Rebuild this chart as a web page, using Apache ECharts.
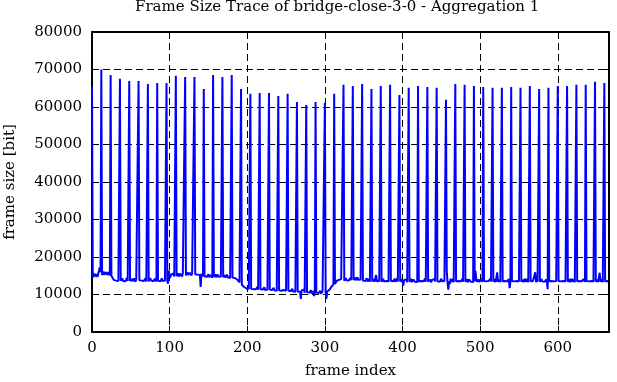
<!DOCTYPE html>
<html><head><meta charset="utf-8">
<script src="https://cdn.jsdelivr.net/npm/echarts@6/dist/echarts.min.js"></script>
<style>html,body{margin:0;padding:0;background:#fff}#c{width:617px;height:382px}</style>
</head><body><div id="c"></div>
<script>
// I-frame sizes, one per GOP of 12 frames (frames 0, 12, 24, ... 660)
const iFrameSizes = [
65400,70000,68500,67500,66900,66900,66100,66400,66400,68300,68000,68000,
64800,68500,68000,68500,64800,63500,63700,63700,62900,63500,61300,60500,
61300,61100,63500,65900,65600,66100,64800,65600,65900,63200,65100,65600,
65300,65100,61900,66100,65900,65600,65300,65100,65100,65300,65100,65600,
64800,65100,65600,65600,65900,65900,66700,66400
];
// Remaining frames of each GOP (11 per GOP, last GOP has 5)
const otherFrameSizes = [
14600,14900,15600,14800,14500,15400,14700,15000,16300,17200,16000,
15200,15600,16100,15300,15000,15900,15400,15200,16000,15500,15100,
15000,14600,14800,13900,13600,14300,13700,13500,14200,13600,13800,
13700,13500,14300,13600,13800,14100,13500,13700,14400,13600,13500,
13600,13900,14200,13500,13700,14300,13800,13400,14100,13700,13600,
13800,13500,14200,13700,13400,14000,13600,13800,14300,13500,13700,
13500,13700,14400,13800,13600,14100,13500,13700,14200,13800,13500,
13700,13600,14100,13500,13800,14300,13600,13400,14000,13700,13900,
13600,12900,16400,14300,14800,15300,14900,15100,15600,14800,15000,
14900,15200,15700,14800,15100,15500,15000,14800,15600,15200,15300,
15100,15400,15900,15200,15300,15800,15500,15100,15700,15300,15600,
15400,15100,15800,15300,15000,15700,15200,12000,15500,15100,14900,
14800,14600,15300,14700,14900,15400,14600,14800,15200,14700,14500,
14700,14900,15400,14600,14800,15300,14700,14500,15100,14800,14600,
14600,14800,15200,14500,14700,15300,14600,14800,15100,14400,14700,
14500,14300,14900,14400,14200,14700,14000,13600,13900,13200,12900,
12600,12300,12700,12000,11800,12200,11600,11400,11900,11500,11300,
11500,11300,11900,11400,11200,11800,11400,11600,12000,11300,11500,
11400,11200,11800,11300,11500,11900,11200,11400,11700,11300,11100,
11300,11100,11700,11200,11400,11800,11100,11300,11600,11000,11200,
11100,11300,11600,11000,10800,11500,11200,10900,11400,11000,11100,
11000,10800,11400,10900,11100,11500,10800,11000,11300,10700,10900,
10800,10600,11200,10700,8800,11100,10600,10800,11300,10500,10700,
10600,10400,11000,10500,10700,11100,10300,10600,10900,9600,10500,
10500,10300,10900,10400,10600,11000,10200,10500,10800,10300,10600,
10400,8900,10800,10500,10700,11300,11500,11900,12300,12400,12700,
12800,13000,13600,13100,13300,13900,13400,13500,14100,13600,13700,
13700,13900,14400,13800,13600,14200,13700,13900,14500,13800,13600,
13900,14000,14500,13800,14100,14600,13900,13700,14300,14000,13800,
13700,13500,14200,13600,13800,14300,13500,13700,14100,13400,13600,
13500,13700,14100,13400,13600,15200,13500,13300,14000,13600,13400,
13400,13600,14200,13500,13300,13900,13600,13400,14100,13500,13700,
13600,13400,14000,13500,13700,14200,13400,13600,14300,13500,13300,
13500,13300,14100,13600,12400,13900,13400,13600,14000,13300,13500,
13400,13600,14200,13300,13500,14000,13700,13400,13900,13500,13300,
13500,13300,13900,13600,13400,14100,13500,13700,14200,13400,13600,
13400,13600,14000,13500,13300,13900,13600,13400,14100,13500,13300,
13500,13300,13900,13400,13600,14200,13500,13300,14000,13600,13400,
16400,13200,11300,13500,12800,14200,13400,13600,14100,13300,13500,
13500,13300,13900,13600,13400,14000,13500,13300,14100,13400,13600,
13400,13600,14100,13300,13500,14000,13600,13400,13900,13500,13300,
13500,16300,14200,13400,13600,14000,13300,13500,14100,13600,13400,
13600,13400,13900,13500,13300,14000,13600,13400,14200,13500,13300,
13400,13600,14100,13300,13500,15900,13400,13600,14000,13300,13500,
13500,13300,14000,13600,13400,13900,13500,13300,14100,11700,13400,
13600,13400,14100,13500,13300,14000,13600,13400,13900,13500,13300,
13400,13600,14000,13300,13500,14200,13400,13600,14100,13300,13500,
13500,13300,13900,13600,13400,14000,15900,13300,14100,13400,13600,
13400,13600,14100,13500,13300,13900,13400,13600,14000,13300,11400,
13500,13300,14000,13600,13400,14100,13500,13300,13900,13600,13400,
13600,13400,13900,13500,13300,14000,13600,13400,14100,13500,13300,
13400,13600,14100,13300,13500,14200,13400,13600,14000,13300,13500,
13500,13300,14000,13600,13400,13900,13500,13300,14100,13600,13400,
13600,13400,14100,13500,13300,14000,13600,13400,13900,13500,13300,
13400,13600,14000,13300,13500,15800,13400,13600,14100,13300,13500,
13500,13300,14000,13600,13400
];
const gopLength = 12;
const frameCount = 666;
const xMax = 666;
const titleText = 'Frame Size Trace of bridge-close-3-0 - Aggregation 1';

const data = [];
let oi = 0;
for (let f = 0; f < frameCount; f++) {
  if (f % gopLength === 0) data.push([f, iFrameSizes[f / gopLength]]);
  else data.push([f, otherFrameSizes[oi++]]);
}

const font = 'DejaVu Serif';
const axisLineStyle = {color: '#000', width: 2};
const gridLine = {show: true, lineStyle: {color: '#000', width: 1, type: [7, 4]}};
const tick = {show: true, inside: true, length: 6, lineStyle: {color: '#000', width: 1}};
const chart = echarts.init(document.getElementById('c'), null, {renderer: 'canvas'});
chart.setOption({
  animation: false,
  backgroundColor: '#fff',
  title: {text: titleText, left: 135, top: 0, padding: 0,
    textStyle: {fontFamily: font, fontSize: 15, fontWeight: 'normal', color: '#000'}},
  grid: {left: 92, right: 8, top: 32, bottom: 50, containLabel: false, outerBoundsMode: 'none'},
  xAxis: [{
    type: 'value', min: 0, max: xMax, interval: 100, position: 'bottom',
    axisLine: {show: true, onZero: false, lineStyle: axisLineStyle},
    axisTick: tick,
    axisLabel: {color: '#000', fontFamily: font, fontSize: 15, margin: 9, showMaxLabel: false},
    splitLine: gridLine,
    name: 'frame index', nameLocation: 'middle', nameGap: 32,
    nameTextStyle: {fontFamily: font, fontSize: 15, color: '#000'}
  }, {
    type: 'value', min: 0, max: xMax, interval: 100, position: 'top',
    axisLine: {show: true, onZero: false, lineStyle: axisLineStyle},
    axisTick: tick, axisLabel: {show: false}, splitLine: {show: false}
  }],
  yAxis: [{
    type: 'value', min: 0, max: 80000, interval: 10000, position: 'left',
    axisLine: {show: true, onZero: false, lineStyle: axisLineStyle},
    axisTick: tick,
    axisLabel: {color: '#000', fontFamily: font, fontSize: 15, margin: 10,
      formatter: function (v) { return String(v); }},
    splitLine: gridLine,
    name: 'frame size [bit]', nameLocation: 'middle', nameGap: 74, nameRotate: 90,
    nameTextStyle: {fontFamily: font, fontSize: 15, color: '#000'}
  }, {
    type: 'value', min: 0, max: 80000, interval: 10000, position: 'right',
    axisLine: {show: true, onZero: false, lineStyle: axisLineStyle},
    axisTick: tick, axisLabel: {show: false}, splitLine: {show: false}
  }],
  series: [{
    type: 'line', data: data, xAxisIndex: 0, yAxisIndex: 0,
    showSymbol: false, symbol: 'none', sampling: null, clip: false,
    lineStyle: {color: '#0000ff', width: 2}, z: 3
  }]
});
</script></body></html>
